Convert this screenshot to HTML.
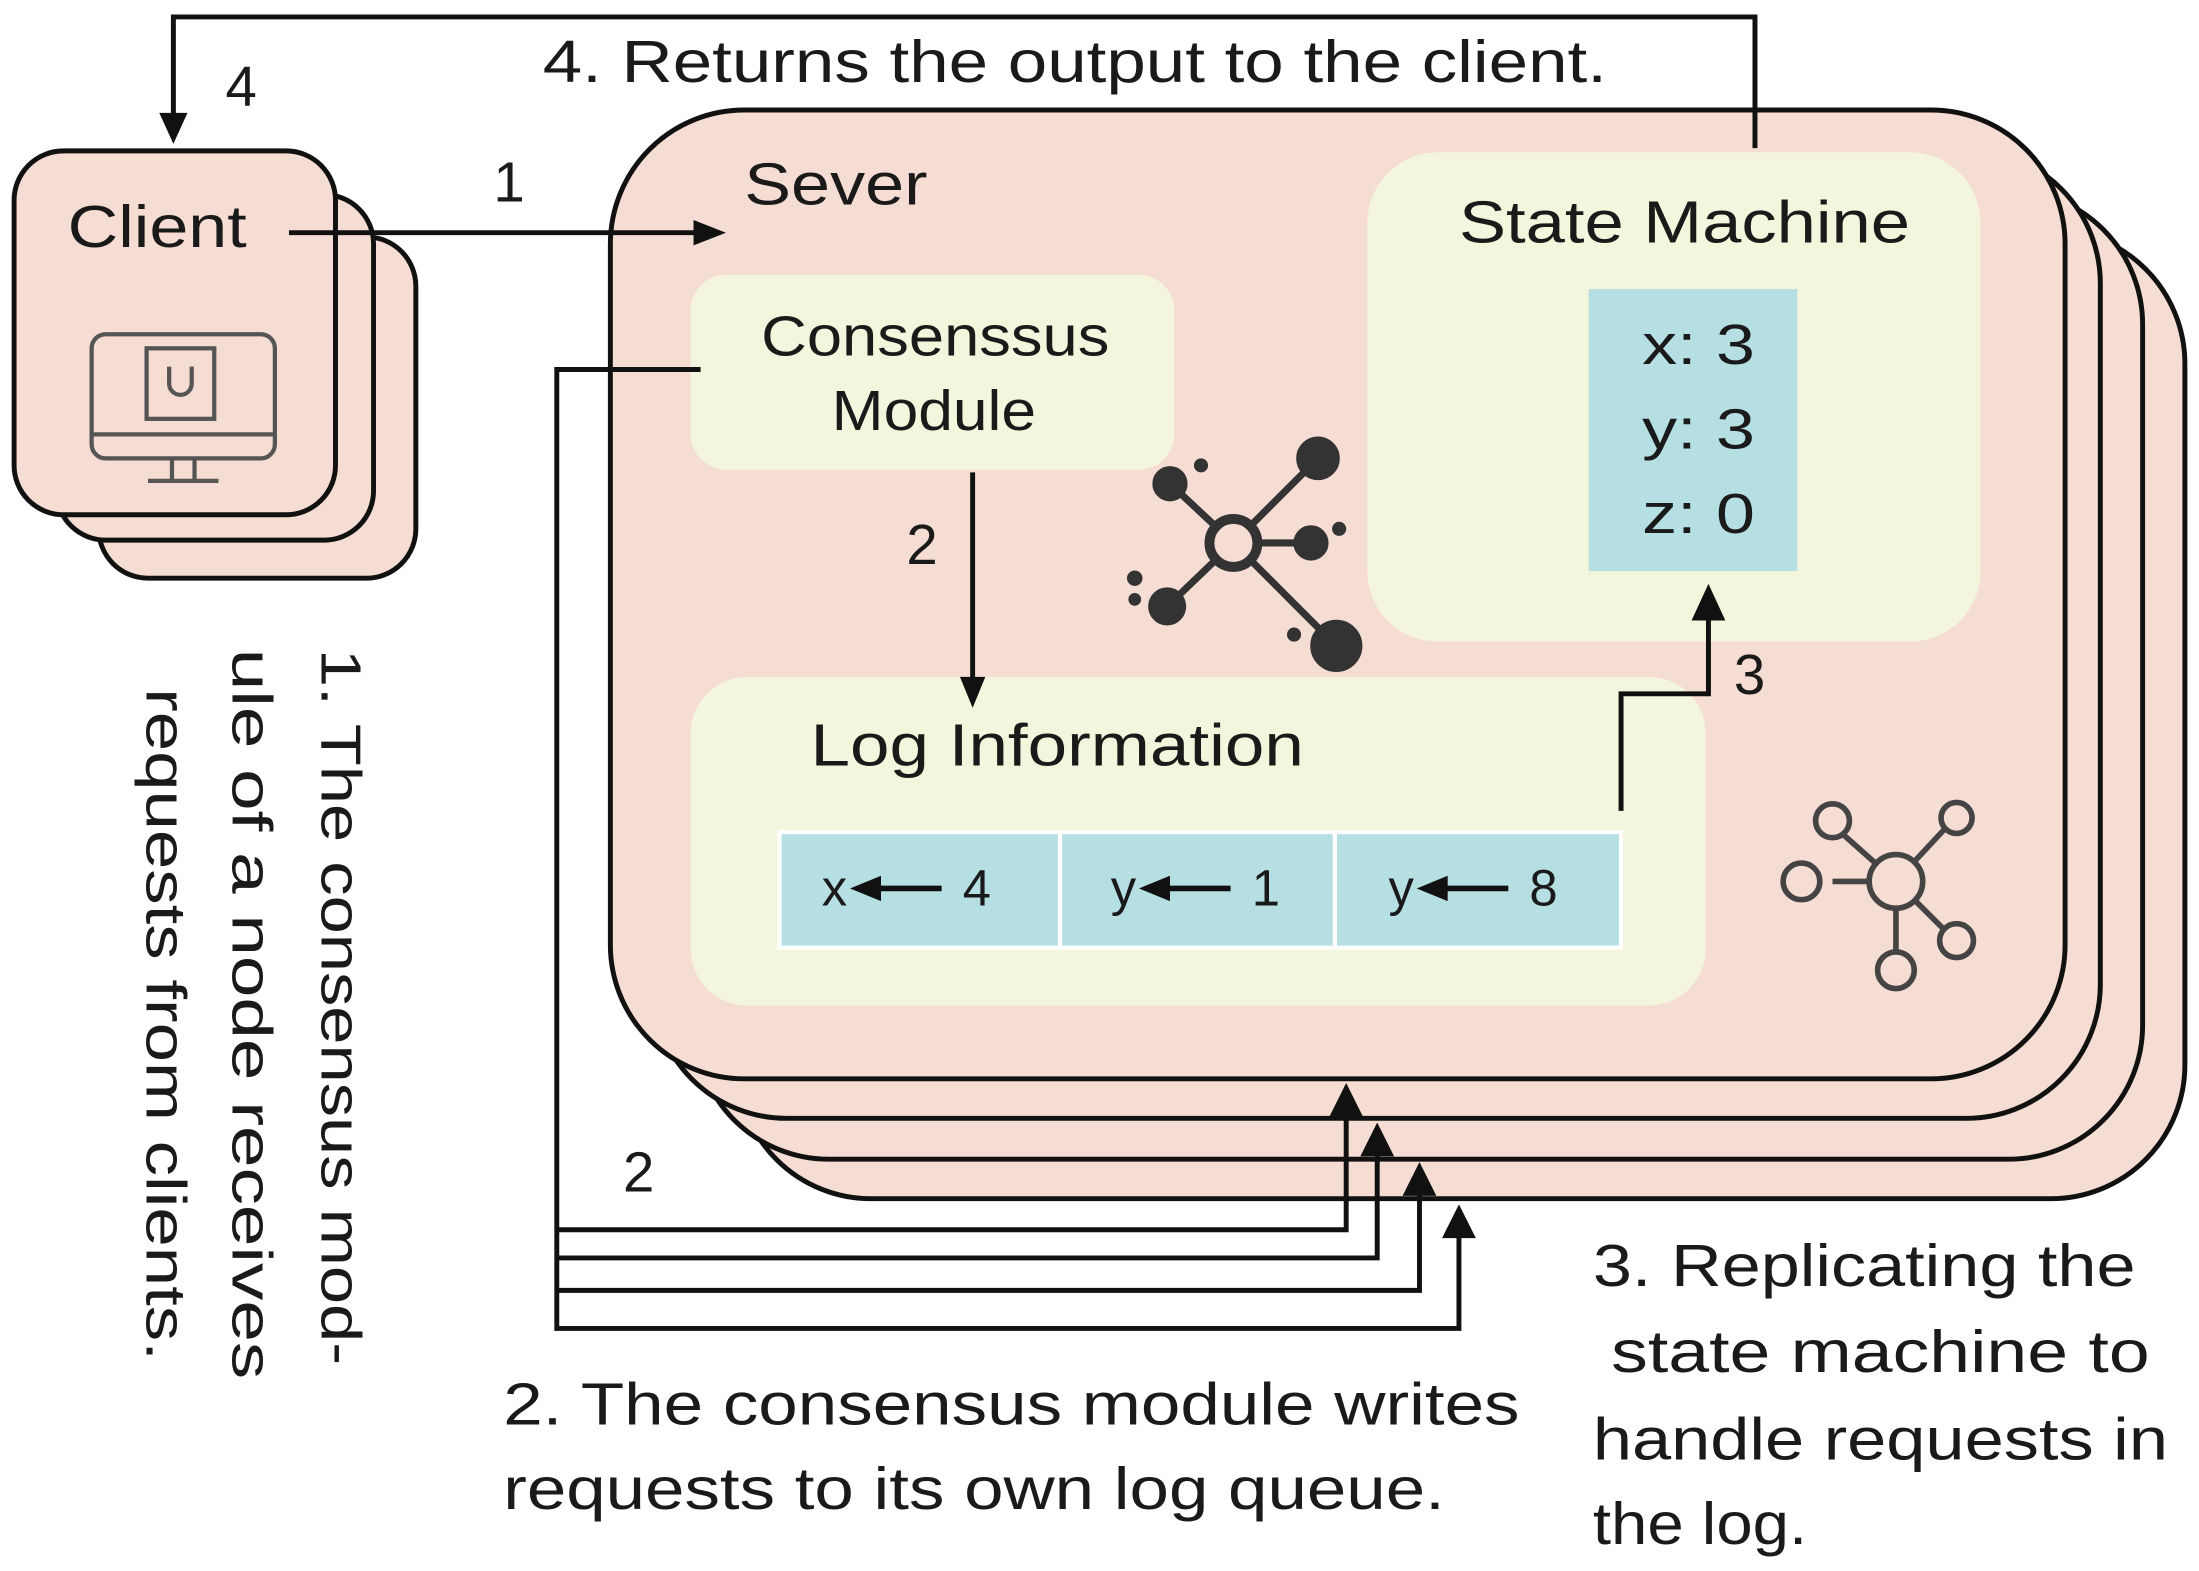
<!DOCTYPE html>
<html><head><meta charset="utf-8"><style>html,body{margin:0;padding:0;background:#fff}svg{display:block}</style></head>
<body>
<svg width="2199" height="1571" viewBox="0 0 1560 1114" preserveAspectRatio="none" xmlns="http://www.w3.org/2000/svg" font-family="Liberation Sans, Arial, sans-serif" fill="#1a1a1a">
<g stroke="#111" stroke-width="3.5" fill="#f6ddd3">
<rect x="70" y="168" width="225" height="242" rx="35"/>
<rect x="40" y="138" width="225" height="245" rx="35"/>
<rect x="10" y="107" width="228" height="258" rx="35"/>
</g>
<text x="48" y="175" font-size="42" textLength="127" lengthAdjust="spacingAndGlyphs">Client</text>
<g stroke="#555" stroke-width="3" fill="none">
<rect x="65" y="237" width="130" height="88" rx="10"/>
<line x1="65" y1="308" x2="195" y2="308"/>
<rect x="104" y="247" width="48" height="50" fill="#f6ddd3"/>
<path d="M120 260 v12 a8 8 0 0 0 16 0 v-12"/>
<line x1="122" y1="325" x2="122" y2="340"/><line x1="138" y1="325" x2="138" y2="340"/>
<line x1="105" y1="341" x2="155" y2="341"/>
</g>
<g stroke="#111" stroke-width="3.5" fill="#f6ddd3">
<rect x="523" y="163" width="1027" height="687" rx="95"/>
<rect x="493" y="135" width="1027" height="687" rx="95"/>
<rect x="463" y="106" width="1027" height="687" rx="95"/>
<rect x="433" y="78" width="1032" height="687" rx="95"/>
</g>
<polyline points="1245,105 1245,12 123,12 123,85" fill="none" stroke="#111" stroke-width="3.5"/>
<path d="M113,80 L133,80 L123,102z" fill="#111"/>
<text x="160" y="75" font-size="40">4</text>
<text x="385" y="58" font-size="42" textLength="755" lengthAdjust="spacingAndGlyphs">4. Returns the output to the client.</text>
<line x1="205" y1="165" x2="500" y2="165" stroke="#111" stroke-width="3.5"/>
<path d="M492,156 L515,165 L492,174z" fill="#111"/>
<text x="350" y="143" font-size="40">1</text>
<text x="528" y="145" font-size="42" textLength="130" lengthAdjust="spacingAndGlyphs">Sever</text>
<rect x="490" y="195" width="343" height="138" rx="25" fill="#f3f5dc"/>
<text x="540" y="252" font-size="40" textLength="247" lengthAdjust="spacingAndGlyphs">Consenssus</text>
<text x="590" y="305" font-size="40" textLength="145" lengthAdjust="spacingAndGlyphs">Module</text>
<rect x="970" y="108" width="435" height="347" rx="50" fill="#f3f5dc"/>
<text x="1035" y="172" font-size="42" textLength="320" lengthAdjust="spacingAndGlyphs">State Machine</text>
<rect x="1127" y="205" width="148" height="200" fill="#b5dfe3"/>
<text x="1165" y="258" font-size="40" textLength="80" lengthAdjust="spacingAndGlyphs">x: 3</text>
<text x="1165" y="318" font-size="40" textLength="80" lengthAdjust="spacingAndGlyphs">y: 3</text>
<text x="1165" y="378" font-size="40" textLength="80" lengthAdjust="spacingAndGlyphs">z: 0</text>
<rect x="490" y="480" width="720" height="233" rx="40" fill="#f3f5dc"/>
<text x="575" y="543" font-size="42" textLength="350" lengthAdjust="spacingAndGlyphs">Log Information</text>
<g fill="#b5dfe3" stroke="#fff" stroke-width="3">
<rect x="553" y="590" width="199" height="82"/><rect x="752" y="590" width="195" height="82"/><rect x="947" y="590" width="203" height="82"/>
</g>
<g font-size="36">
<text x="583" y="642">x</text><text x="683" y="642">4</text>
<text x="788" y="642">y</text><text x="888" y="642">1</text>
<text x="985" y="642">y</text><text x="1085" y="642">8</text>
</g>
<g stroke="#111" stroke-width="4"><line x1="620" y1="630" x2="668" y2="630"/><line x1="825" y1="630" x2="873" y2="630"/><line x1="1022" y1="630" x2="1070" y2="630"/></g>
<path d="M603,630 L625,621 L625,639z M808,630 L830,621 L830,639z M1005,630 L1027,621 L1027,639z" fill="#111"/>
<line x1="690" y1="335" x2="690" y2="485" stroke="#111" stroke-width="3.5"/>
<path d="M681,480 L699,480 L690,502z" fill="#111"/>
<text x="643" y="400" font-size="40">2</text>
<polyline points="1150,575 1150,492 1212,492 1212,432" fill="none" stroke="#111" stroke-width="3.5"/>
<path d="M1200,440 L1224,440 L1212,414z" fill="#111"/>
<text x="1230" y="492" font-size="40">3</text>
<g fill="none" stroke="#111" stroke-width="3.5">
<polyline points="497,262 395,262 395,942 1035,942 1035,870"/>
<polyline points="395,872 955,872 955,785"/>
<polyline points="395,892 977,892 977,812"/>
<polyline points="395,915 1007,915 1007,840"/>
</g>
<path d="M943,792 L967,792 L955,768z M965,820 L989,820 L977,796z M995,848 L1019,848 L1007,824z M1023,878 L1047,878 L1035,854z" fill="#111"/>
<text x="442" y="845" font-size="40">2</text>
<g font-size="40">
<text transform="translate(228,460) rotate(90)" textLength="508" lengthAdjust="spacingAndGlyphs">1. The consensus mod-</text>
<text transform="translate(165,460) rotate(90)" textLength="518" lengthAdjust="spacingAndGlyphs">ule of a node receives</text>
<text transform="translate(104,488) rotate(90)" textLength="477" lengthAdjust="spacingAndGlyphs">requests from clients.</text>
</g>
<g font-size="42">
<text x="357" y="1010" textLength="721" lengthAdjust="spacingAndGlyphs">2. The consensus module writes</text>
<text x="357" y="1070" textLength="668" lengthAdjust="spacingAndGlyphs">requests to its own log queue.</text>
<text x="1130" y="912" textLength="385" lengthAdjust="spacingAndGlyphs">3. Replicating the</text>
<text x="1143" y="973" textLength="382" lengthAdjust="spacingAndGlyphs">state  machine to</text>
<text x="1130" y="1035" textLength="408" lengthAdjust="spacingAndGlyphs">handle requests in</text>
<text x="1130" y="1095" textLength="152" lengthAdjust="spacingAndGlyphs">the log.</text>
</g>
<g stroke="#333" stroke-width="5" fill="#333">
<line x1="875" y1="385" x2="830" y2="343"/><line x1="875" y1="385" x2="935" y2="325"/><line x1="875" y1="385" x2="930" y2="385"/><line x1="875" y1="385" x2="828" y2="430"/><line x1="875" y1="385" x2="948" y2="458"/>
<circle cx="830" cy="343" r="10"/><circle cx="935" cy="325" r="13"/><circle cx="930" cy="385" r="10"/><circle cx="828" cy="430" r="11"/><circle cx="948" cy="458" r="16"/>
<circle cx="875" cy="385" r="17" fill="#f6ddd3" stroke-width="7"/>
<circle cx="852" cy="330" r="2.5"/><circle cx="805" cy="410" r="3"/><circle cx="950" cy="375" r="2.5"/><circle cx="918" cy="450" r="2.5"/><circle cx="805" cy="425" r="2"/>
</g>
<g stroke="#444" stroke-width="4" fill="none">
<line x1="1345" y1="625" x2="1300" y2="625"/><line x1="1345" y1="625" x2="1300" y2="585"/><line x1="1345" y1="625" x2="1385" y2="582"/><line x1="1345" y1="625" x2="1385" y2="665"/><line x1="1345" y1="625" x2="1345" y2="685"/>
<circle cx="1345" cy="625" r="19" fill="#f6ddd3"/>
<circle cx="1278" cy="625" r="13" fill="#f6ddd3"/><circle cx="1300" cy="582" r="12" fill="#f6ddd3"/><circle cx="1388" cy="580" r="11" fill="#f6ddd3"/><circle cx="1388" cy="667" r="12" fill="#f6ddd3"/><circle cx="1345" cy="688" r="13" fill="#f6ddd3"/>
</g>
</svg>
</body></html>
